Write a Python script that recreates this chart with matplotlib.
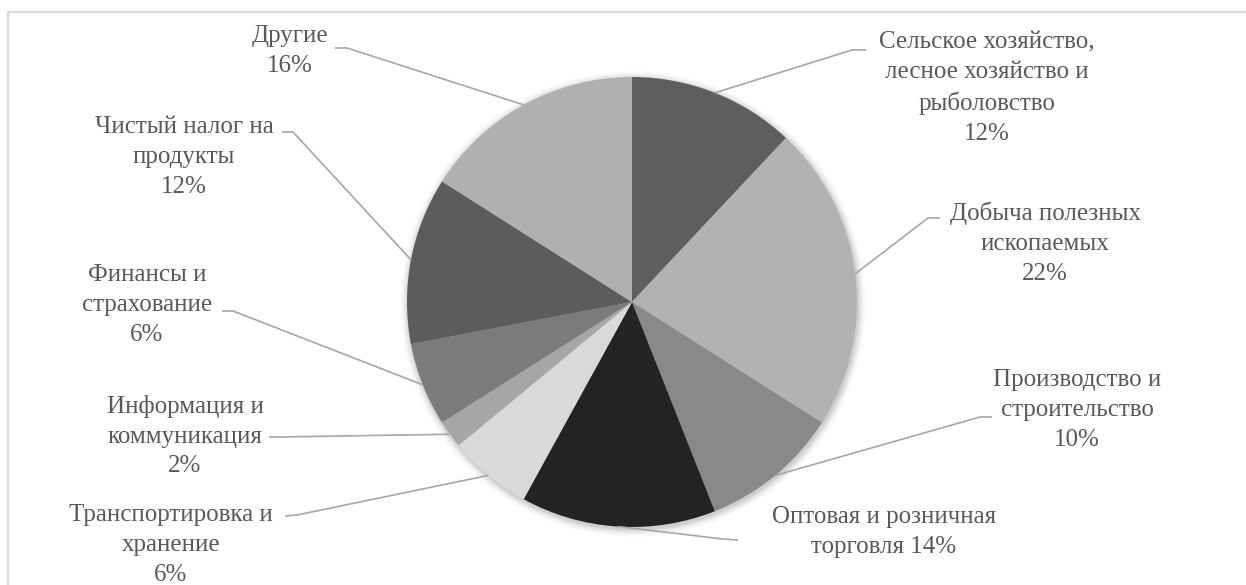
import numpy as np
import matplotlib.pyplot as plt
from matplotlib.patches import Circle

# GDP structure by sector, percent
sectors = [
    "Сельское хозяйство,\nлесное хозяйство и\nрыболовство",
    "Добыча полезных\nископаемых",
    "Производство и\nстроительство",
    "Оптовая и розничная\nторговля",
    "Транспортировка и\nхранение",
    "Информация и\nкоммуникация",
    "Финансы и\nстрахование",
    "Чистый налог на\nпродукты",
    "Другие",
]
shares = [12, 22, 10, 14, 6, 2, 6, 12, 16]
colors = ["#5e5e5e", "#b2b2b2", "#898989", "#232323", "#d9d9d9",
          "#a6a6a6", "#7b7b7b", "#5c5c5c", "#b0b0b0"]

W, H = 1246, 585
CX, CY, R = 632, 302, 225

# label anchor (x, y from top), leader knee, leader end at the text
label_pos = [(987, 88), (1045, 243), (1077, 410), (884, 532), (171, 545),
             (185, 436), (147, 305), (184, 157), (290, 51)]
knees = [(852, 50), (928, 218), (980, 417), (723, 539), (297, 515),
         (280, 437), (233, 311), (293, 132), (347, 48)]
tails = [(866, 50), (940, 218), (992, 417), (738, 540), (285, 516),
         (269, 437), (222, 311), (282, 132), (335, 48)]


def fy(y):
    # pixel row from the top -> data y
    return H - y


plt.rcParams['font.family'] = ['Liberation Serif', 'DejaVu Serif']

fig = plt.figure(figsize=(W / 100, H / 100), dpi=100)
ax = fig.add_axes([0, 0, 1, 1])

# soft shadow under the pie
for i, a in enumerate(np.linspace(0.05, 0.012, 6)):
    ax.add_patch(Circle((CX + 1, fy(CY) - 2), R + 1 + i * 1.4,
                        facecolor='black', alpha=a, edgecolor='none', zorder=1))

wedges, _ = ax.pie(shares, colors=colors, startangle=90, counterclock=False,
                   center=(CX, fy(CY)), radius=R,
                   wedgeprops=dict(linewidth=0, zorder=2))

for w, text, share, (tx, ty), knee, tail in zip(wedges, sectors, shares,
                                                label_pos, knees, tails):
    mid = np.deg2rad((w.theta1 + w.theta2) / 2)
    ex, ey = CX + R * np.cos(mid), fy(CY) + R * np.sin(mid)
    ax.plot([ex, knee[0], tail[0]], [ey, fy(knee[1]), fy(tail[1])],
            color='#a6a6a6', lw=1.2, zorder=3, solid_capstyle='butt')
    if text.startswith("Оптовая"):
        label = f"{text} {share}%"
    else:
        label = f"{text}\n{share}%"
    ax.text(tx, fy(ty), label, ha='center', va='center', fontsize=18,
            color='#595959', linespacing=1.46, zorder=4)

# chart area frame (only top and left edges fall inside the image)
ax.plot([8, 8, W + 5], [-5, fy(12), fy(12)], color='#d9d9d9', lw=1.6,
        zorder=0, solid_joinstyle='miter')

ax.set_xlim(0, W)
ax.set_ylim(0, H)
ax.set_aspect('equal')
ax.axis('off')

fig.savefig('out.png', dpi=100)
